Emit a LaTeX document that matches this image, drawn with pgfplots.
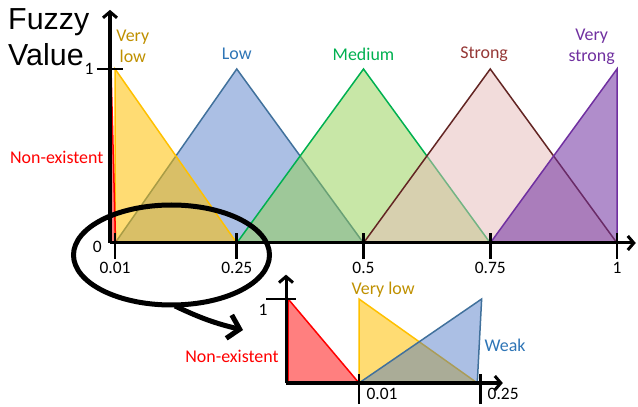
\documentclass[border=0pt]{standalone}
\usepackage{pgfplots}
\pgfplotsset{compat=1.18}
\usetikzlibrary{arrows.meta}
\usepackage{fontspec}
\setmainfont{Carlito}
\newfontfamily\arialfont{Liberation Sans}
\definecolor{vlowline}{HTML}{FFC000}
\definecolor{vlowtext}{HTML}{BF9000}
\definecolor{lowline}{HTML}{41719C}
\definecolor{lowfill}{HTML}{4472C4}
\definecolor{lowtext}{HTML}{2E75B6}
\definecolor{medline}{HTML}{00B050}
\definecolor{medfill}{HTML}{92D050}
\definecolor{strline}{HTML}{632523}
\definecolor{strfill}{HTML}{E6B9B8}
\definecolor{strtext}{HTML}{953735}
\definecolor{vstrline}{HTML}{7030A0}
\definecolor{nonline}{HTML}{FF0000}

\pgfplotsset{
  arrowaxis/.style={
    axis lines=left,
    axis on top,
    clip=false,
    axis line style={line width=3bp, -{Straight Barb[length=6bp,width=14bp,line width=3bp]}},
    tick align=center,
    major tick length=26bp,
    tick style={black, line width=2.8bp},
    tick label style={font=\fontsize{17.5}{17.5}\selectfont},
  },
}

\begin{document}
\begin{tikzpicture}
\useasboundingbox (0,0) rectangle (638bp,407bp);

\node[anchor=north west, inner sep=0, align=left,
      font=\arialfont\fontsize{30.5}{37}\selectfont] at (8bp,399bp) {Fuzzy\\Value};

% main chart
\begin{axis}[
  arrowaxis,
  at={(110bp,164bp)}, anchor=origin,
  x=507bp, y=174bp,
  xmin=0, xmax=1.037, ymin=0, ymax=1.34,
  xtick={0.01,0.25,0.5,0.75,1},
  xticklabels={0.01,0.25,0.5,0.75,1},
  ytick={1}, yticklabels={1},
  xtick style={yshift=-3bp},
  xticklabel style={yshift=-3bp},
]
\addplot[draw=lowline, line width=1.5bp, fill=lowfill, fill opacity=0.45]
  coordinates {(0.01,0) (0.25,1) (0.5,0)} -- cycle;
\addplot[draw=vlowline, line width=1.5bp, fill=vlowline, fill opacity=0.55]
  coordinates {(0.01,0) (0.01,1) (0.25,0)} -- cycle;
\addplot[draw=medline, line width=1.5bp, fill=medfill, fill opacity=0.5]
  coordinates {(0.25,0) (0.5,1) (0.75,0)} -- cycle;
\addplot[draw=strline, line width=1.5bp, fill=strfill, fill opacity=0.5]
  coordinates {(0.5,0) (0.75,1) (1,0)} -- cycle;
\addplot[draw=vstrline, line width=1.5bp, fill=vstrline, fill opacity=0.55]
  coordinates {(0.75,0) (1,1) (1,0)} -- cycle;
\addplot[draw=nonline, line width=1.5bp, fill=nonline, fill opacity=0.5]
  coordinates {(0.002,0) (0.002,1) (0.011,0)} -- cycle;

\node[anchor=east, inner sep=0, xshift=-8bp, font=\fontsize{17.5}{17.5}\selectfont] at (axis cs:0,-0.02) {0};
\begin{scope}[font=\fontsize{18}{21}\selectfont, align=center]
\node[text=vlowtext] at (axis cs:0.045,1.13) {Very\\low};
\node[text=lowtext] at (axis cs:0.25,1.086) {Low};
\node[text=medline] at (axis cs:0.5,1.086) {Medium};
\node[text=strtext] at (axis cs:0.738,1.086) {Strong};
\node[text=vstrline] at (axis cs:0.95,1.13) {Very\\strong};
\node[text=nonline] at (axis cs:-0.105,0.494) {Non-existent};
\end{scope}
\end{axis}

% zoom annotation
\draw[line width=5bp] (171.5bp,152bp) ellipse [x radius=98bp, y radius=50bp];
\draw[line width=5bp, -{Straight Barb[length=11bp,width=24bp,line width=5bp]}]
  (175bp,101bp) to[bend right=6] (243bp,77bp);

% inset (x axis not to scale: 0 -> 0, 0.01 -> 1, 0.25 -> 2.66)
\begin{axis}[
  arrowaxis,
  at={(286bp,24bp)}, anchor=origin,
  x=73bp, y=84bp,
  xmin=0, xmax=2.97, ymin=0, ymax=1.29,
  xtick={1,2.66}, xticklabels={0.01,0.25},
  ytick={1}, yticklabels={1},
  major tick length=30bp,
  xtick style={yshift=-6bp},
  ytick style={xshift=-5bp},
  xticklabel style={anchor=north west, xshift=4bp, yshift=13bp},
  yticklabel style={yshift=-11bp, xshift=0bp},
]
\addplot[draw=vlowline, line width=1.5bp, fill=vlowline, fill opacity=0.55]
  coordinates {(1,0) (1,1) (2.62,0)} -- cycle;
\addplot[draw=lowline, line width=1.5bp, fill=lowfill, fill opacity=0.45]
  coordinates {(1,0) (2.68,1) (2.62,0)} -- cycle;
\addplot[draw=nonline, line width=1.5bp, fill=nonline, fill opacity=0.5]
  coordinates {(0.03,0) (0.03,1) (1,0)} -- cycle;

\begin{scope}[font=\fontsize{18}{21}\selectfont]
\node[text=vlowtext] at (axis cs:1.33,1.11) {Very low};
\node[text=nonline] at (axis cs:-0.74,0.32) {Non-existent};
\node[text=lowtext] at (axis cs:3.0,0.45) {Weak};
\end{scope}
\end{axis}
\end{tikzpicture}
\end{document}
